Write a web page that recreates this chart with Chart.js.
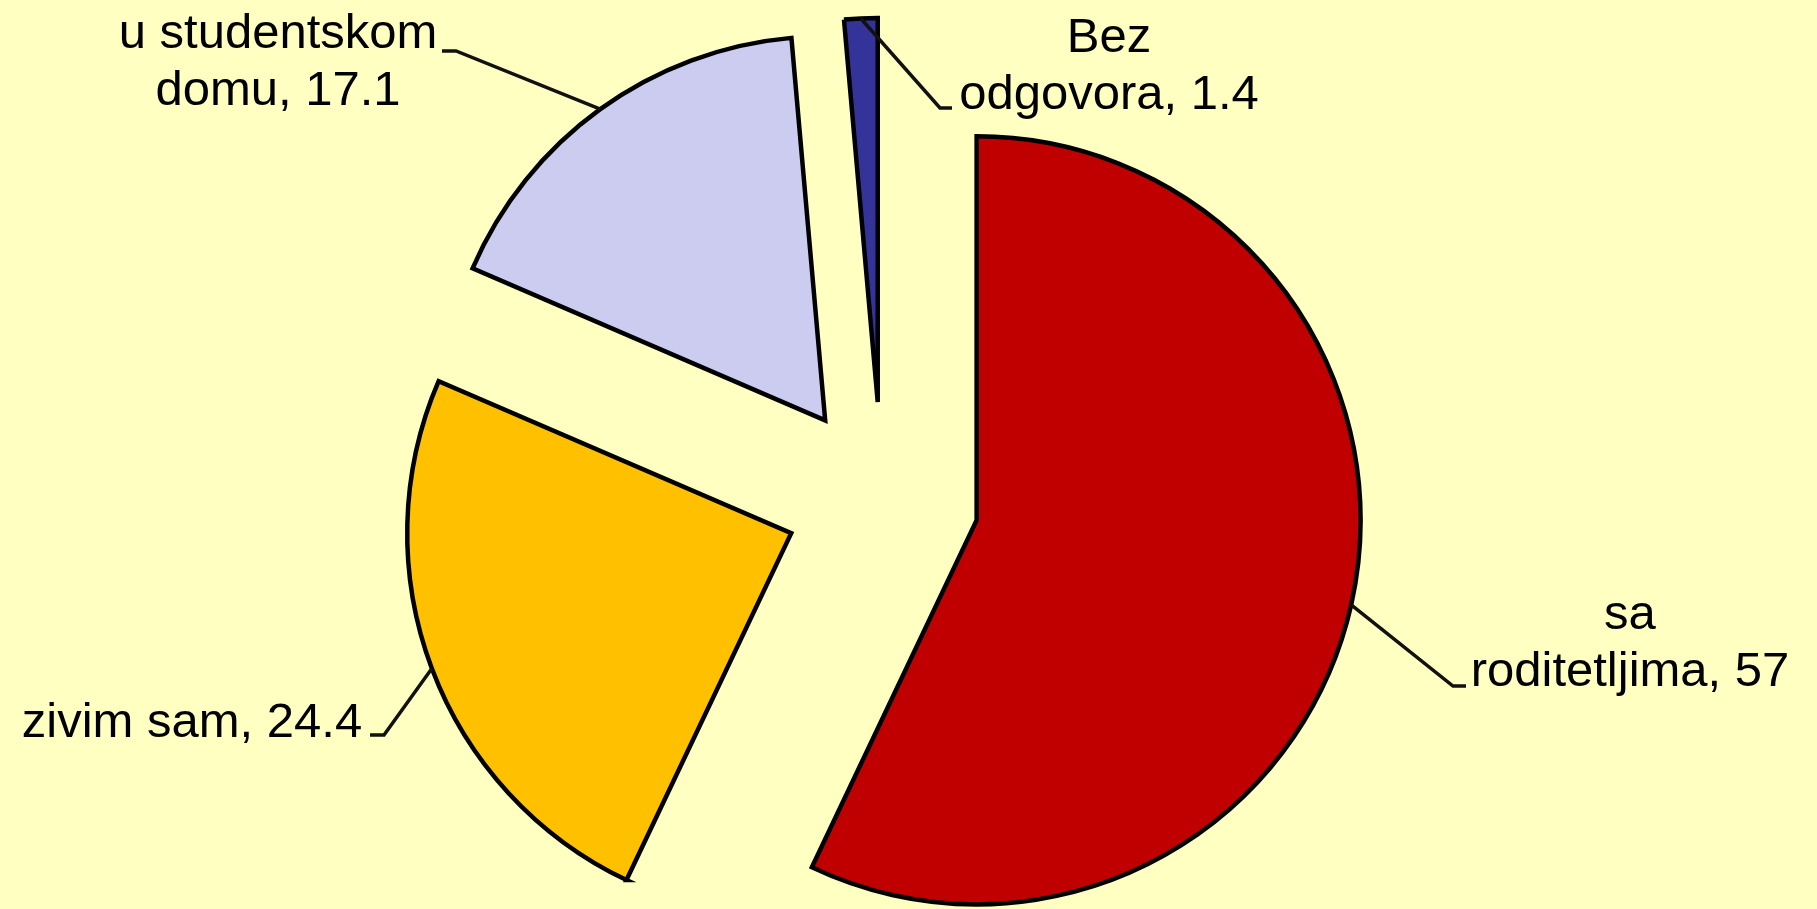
<!DOCTYPE html>
<html>
<head>
<meta charset="utf-8">
<script src="https://cdn.jsdelivr.net/npm/chart.js@4.4.0/dist/chart.umd.min.js"></script>
<style>
  html, body { margin: 0; padding: 0; background: #FFFFC2; }
  canvas { display: block; }
</style>
</head>
<body>
<canvas id="pieChart" width="1817" height="909"></canvas>
<script>
// chart data
const categories = ['sa roditetljima', 'zivim sam', 'u studentskom domu', 'Bez odgovora'];
const values = [57, 24.4, 17.1, 1.4];
const sliceColors = ['#C00000', '#FFC000', '#CCCCF0', '#333399'];

// how far every slice is pulled out of the pie (px)
const explodeDistance = 97;

// label placement: words on first line, text centre x, first baseline, leader elbow + end
const labelLayout = [
    { split: 1, x: 1630, y: 629, elbow: [1453, 686], end: [1466, 686] },
    { split: 0, x: 192, y: 737, elbow: [384, 735], end: [370, 735] },
    { split: 2, x: 278, y: 48, elbow: [456, 51], end: [442, 51] },
    { split: 1, x: 1109, y: 52, elbow: [940, 108], end: [952, 108] }
];
const lineHeight = 57;

function labelLines(i) {
    const words = categories[i].split(' ');
    const split = labelLayout[i].split;
    const last = words.slice(split).join(' ') + ', ' + values[i];
    return split > 0 ? [words.slice(0, split).join(' '), last] : [last];
}

// move each arc outwards along its middle angle before it is drawn
const explodePlugin = {
    id: 'explode',
    beforeDatasetDraw(chart, args) {
        args.meta.data.forEach(arc => {
            if (arc._exploded) return;
            const baseDraw = arc.draw;
            arc.draw = function (ctx, area) {
                const mid = (this.startAngle + this.endAngle) / 2;
                ctx.save();
                ctx.translate(Math.cos(mid) * explodeDistance, Math.sin(mid) * explodeDistance);
                baseDraw.call(this, ctx, area);
                ctx.restore();
            };
            arc._exploded = true;
        });
    }
};

// background + labels with leader lines
const leaderLabels = {
    id: 'leaderLabels',
    beforeDraw(chart) {
        const ctx = chart.ctx;
        ctx.save();
        ctx.fillStyle = '#FFFFC2';
        ctx.fillRect(0, 0, chart.width, chart.height);
        ctx.restore();
    },
    afterDatasetsDraw(chart) {
        const ctx = chart.ctx;
        const meta = chart.getDatasetMeta(0);
        ctx.save();
        meta.data.forEach((arc, i) => {
            const p = arc.getProps(['x', 'y', 'startAngle', 'endAngle', 'outerRadius'], true);
            const mid = (p.startAngle + p.endAngle) / 2;
            const r = p.outerRadius + explodeDistance;
            const ax = p.x + Math.cos(mid) * r;
            const ay = p.y + Math.sin(mid) * r;
            const lay = labelLayout[i];

            ctx.strokeStyle = '#111111';
            ctx.lineWidth = 3.5;
            ctx.lineJoin = 'miter';
            ctx.beginPath();
            ctx.moveTo(ax, ay);
            ctx.lineTo(lay.elbow[0], lay.elbow[1]);
            ctx.lineTo(lay.end[0], lay.end[1]);
            ctx.stroke();

            ctx.fillStyle = '#000000';
            ctx.font = '49px "Liberation Sans", Arial, sans-serif';
            ctx.textAlign = 'center';
            ctx.textBaseline = 'alphabetic';
            labelLines(i).forEach((line, k) => {
                ctx.fillText(line, lay.x, lay.y + k * lineHeight);
            });
        });
        ctx.restore();
    }
};

const ctx = document.getElementById('pieChart').getContext('2d');
const pieChart = new Chart(ctx, {
    type: 'pie',
    data: {
        labels: categories,
        datasets: [{
            data: values,
            backgroundColor: sliceColors,
            borderColor: '#000000',
            borderWidth: 4.5,
            borderJoinStyle: 'miter',
            radius: 384,
            clip: false
        }]
    },
    options: {
        responsive: false,
        animation: false,
        devicePixelRatio: 1,
        events: [],
        layout: {
            padding: { left: 0, right: 53, top: 89, bottom: 0 }
        },
        plugins: {
            legend: { display: false },
            tooltip: { enabled: false }
        }
    },
    plugins: [explodePlugin, leaderLabels]
});
</script>
</body>
</html>
